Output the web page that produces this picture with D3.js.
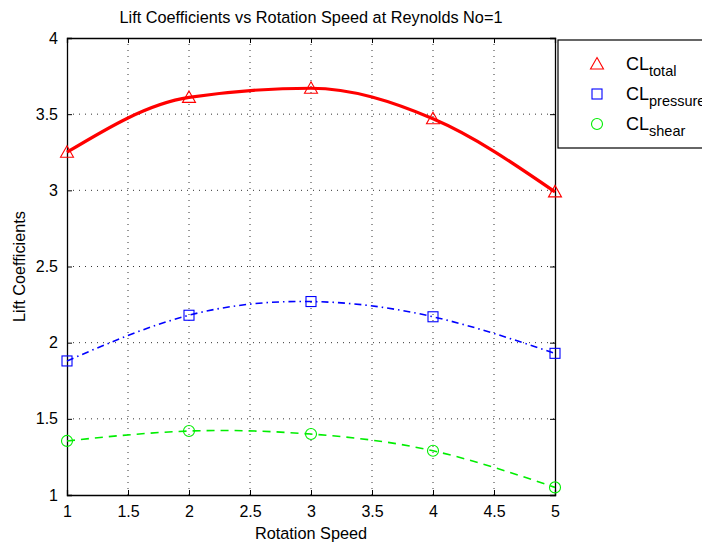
<!DOCTYPE html>
<html>
<head>
<meta charset="utf-8">
<script src="https://cdn.jsdelivr.net/npm/d3@7"></script>
<style>
  body { margin: 0; background: #fff; }
  svg { display: block; font-family: "Liberation Sans", Arial, Helvetica, sans-serif; }
</style>
</head>
<body>
<svg id="chart" width="702" height="544"></svg>
<script>
// Rotation speeds and lift coefficients at Reynolds No = 1
const speeds = [1, 2, 3, 4, 5];
const clTotal = [3.25, 3.61, 3.67, 3.47, 2.99];
const clPressure = [1.88, 2.18, 2.27, 2.17, 1.93];
const clShear = [1.355, 1.42, 1.40, 1.29, 1.05];

const xTicks = [1, 1.5, 2, 2.5, 3, 3.5, 4, 4.5, 5];
const yTicks = [1, 1.5, 2, 2.5, 3, 3.5, 4];

const svg = d3.select("#chart");
const margin = { left: 67, right: 147, top: 38, bottom: 49 };
const W = 702, H = 544;

const x = d3.scaleLinear().domain([1, 5]).range([margin.left, W - margin.right]);
const y = d3.scaleLinear().domain([1, 4]).range([H - margin.bottom, margin.top]);

const x0 = x.range()[0], x1 = x.range()[1];
const y0 = y.range()[0], y1 = y.range()[1];

// Dotted grid
const grid = svg.append("g");
grid.selectAll(".gx").data(xTicks.slice(1, -1)).join("line")
  .attr("x1", d => x(d)).attr("x2", d => x(d))
  .attr("y1", y0).attr("y2", y1)
  .attr("stroke", "#333").attr("stroke-width", 1)
  .attr("stroke-dasharray", "1,5");
grid.selectAll(".gy").data(yTicks.slice(1, -1)).join("line")
  .attr("x1", x0).attr("x2", x1)
  .attr("y1", d => y(d)).attr("y2", d => y(d))
  .attr("stroke", "#333").attr("stroke-width", 1)
  .attr("stroke-dasharray", "1,5");

// Axes with inward ticks
const xAxis = d3.axisBottom(x).tickValues(xTicks).tickSize(-5).tickPadding(11)
  .tickFormat(d3.format("~g"));
const yAxis = d3.axisLeft(y).tickValues(yTicks).tickSize(-5).tickPadding(9)
  .tickFormat(d3.format("~g"));
const xTop = d3.axisTop(x).tickValues(xTicks).tickSize(-5).tickFormat("");
const yRight = d3.axisRight(y).tickValues(yTicks).tickSize(-5).tickFormat("");

function styleAxis(g) {
  g.select(".domain").attr("stroke", "#000").attr("stroke-width", 1.3);
  g.selectAll(".tick line").attr("stroke", "#000");
  g.selectAll(".tick text").attr("font-size", 16).attr("fill", "#000")
    .attr("font-family", "Liberation Sans, Arial, sans-serif");
}
svg.append("g").attr("transform", `translate(0,${y0})`).call(xAxis).call(styleAxis);
svg.append("g").attr("transform", `translate(${x0},0)`).call(yAxis).call(styleAxis);
svg.append("g").attr("transform", `translate(0,${y1})`).call(xTop).call(styleAxis);
svg.append("g").attr("transform", `translate(${x1},0)`).call(yRight).call(styleAxis);

// Curves
const series = [
  { vals: clTotal, color: "#ff0000", width: 3.2, dash: null, marker: "triangle", curve: d3.curveMonotoneX },
  { vals: clPressure, color: "#0000ff", width: 1.6, dash: "7,4,1.5,4", marker: "square", curve: d3.curveNatural },
  { vals: clShear, color: "#00ee00", width: 1.6, dash: "8,6", marker: "circle", curve: d3.curveNatural }
];

series.forEach(s => {
  const pts = speeds.map((v, i) => [v, s.vals[i]]);
  const line = d3.line().x(d => x(d[0])).y(d => y(d[1])).curve(s.curve);
  svg.append("path").datum(pts)
    .attr("d", line)
    .attr("fill", "none")
    .attr("stroke", s.color)
    .attr("stroke-width", s.width)
    .attr("stroke-dasharray", s.dash);
});

function drawMarker(g, type, cx, cy, color) {
  if (type === "triangle") {
    g.append("path")
      .attr("d", `M${cx},${cy - 6.5}L${cx + 6.5},${cy + 5}L${cx - 6.5},${cy + 5}Z`)
      .attr("fill", "none").attr("stroke", color).attr("stroke-width", 1.1);
  } else if (type === "square") {
    g.append("rect").attr("x", cx - 5).attr("y", cy - 5).attr("width", 10).attr("height", 10)
      .attr("fill", "none").attr("stroke", color).attr("stroke-width", 1.1);
  } else {
    g.append("circle").attr("cx", cx).attr("cy", cy).attr("r", 5.5)
      .attr("fill", "none").attr("stroke", color).attr("stroke-width", 1.1);
  }
}

series.forEach(s => {
  const g = svg.append("g");
  speeds.forEach((v, i) => drawMarker(g, s.marker, x(v), y(s.vals[i]), s.color));
});

// Title and axis labels
svg.append("text").attr("x", (x0 + x1) / 2).attr("y", 23)
  .attr("text-anchor", "middle").attr("font-size", 16.3).text("Lift Coefficients vs Rotation Speed at Reynolds No=1");
svg.append("text").attr("x", (x0 + x1) / 2).attr("y", 539)
  .attr("text-anchor", "middle").attr("font-size", 16.3).text("Rotation Speed");
svg.append("text")
  .attr("transform", `translate(25,${(y0 + y1) / 2}) rotate(-90)`)
  .attr("text-anchor", "middle").attr("font-size", 16.3).text("Lift Coefficients");

// Legend (the box runs past the right edge of the figure)
const legend = svg.append("g");
legend.append("rect").attr("x", 558).attr("y", 40).attr("width", 160).attr("height", 108)
  .attr("fill", "#fff").attr("stroke", "#000").attr("stroke-width", 1.2);
const legendItems = [
  { name: "total", marker: "triangle", color: "#ff0000" },
  { name: "pressure", marker: "square", color: "#0000ff" },
  { name: "shear", marker: "circle", color: "#00ee00" }
];
legendItems.forEach((it, i) => {
  const cy = 64 + i * 30;
  drawMarker(legend, it.marker, 597, cy, it.color);
  const t = legend.append("text").attr("x", 626).attr("y", cy + 6).attr("font-size", 18);
  t.append("tspan").text("CL");
  t.append("tspan").attr("dy", 6).attr("font-size", 14.5).text(it.name);
});
</script>
</body>
</html>
